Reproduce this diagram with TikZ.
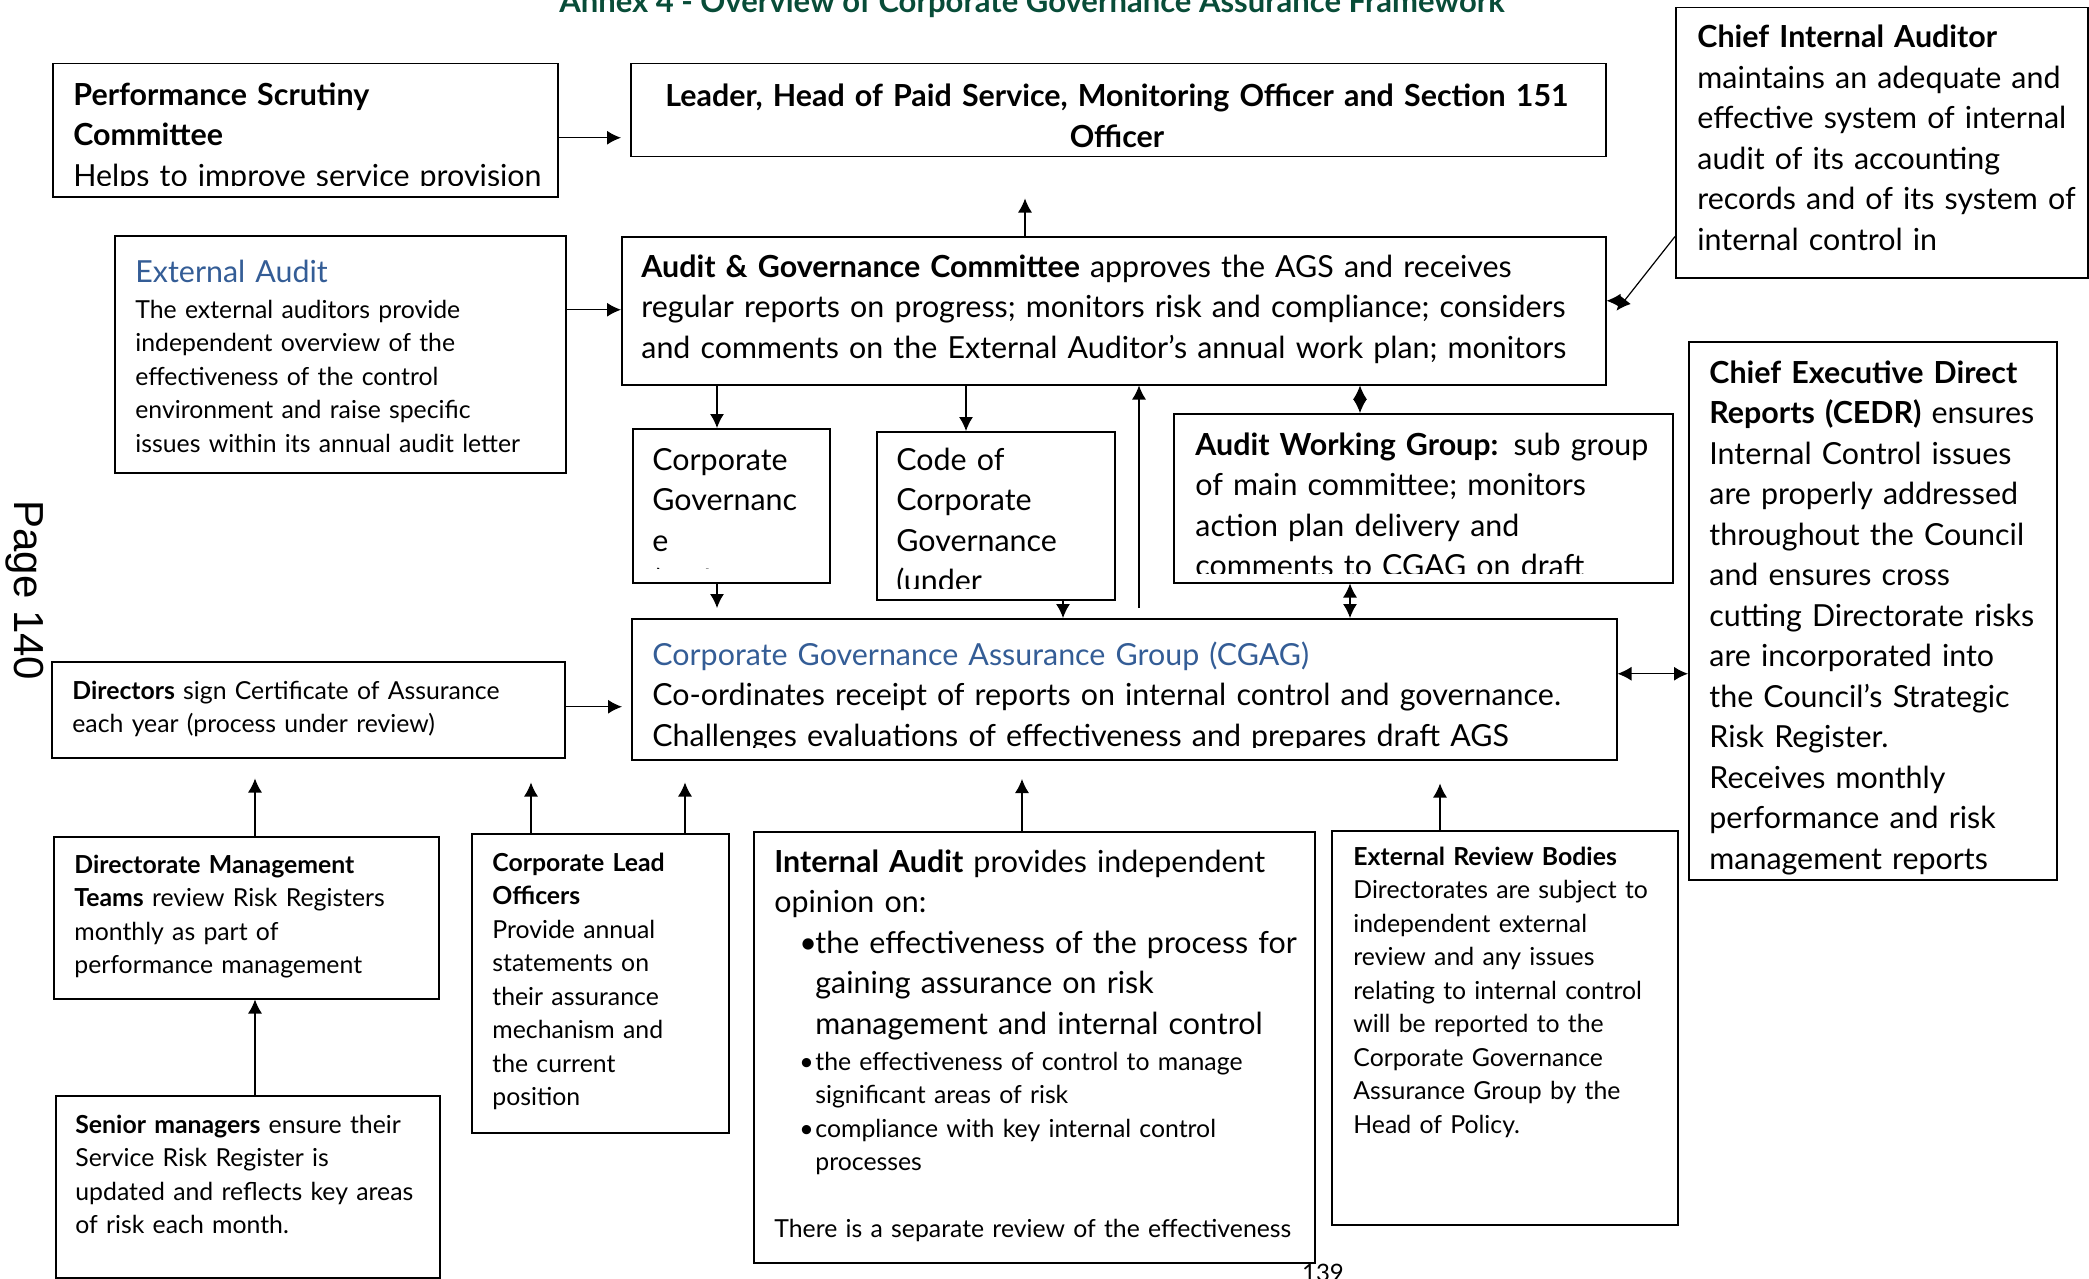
\documentclass[tikz,border=0pt]{standalone}
\usepackage{fontspec}
\setmainfont{Lato}
\newfontfamily\pagefont{Liberation Sans}
\usetikzlibrary{calc}
\usetikzlibrary{positioning}
\usetikzlibrary{arrows.meta}
\definecolor{headblue}{RGB}{52,93,150}
\definecolor{titlegreen}{RGB}{8,76,56}

\begin{document}
\begin{tikzpicture}[x=0.5pt,y=-0.5pt,>={Latex[length=7pt,width=7pt]},
    box/.style={draw,line width=0.75pt,inner sep=0pt,anchor=north west},
    big/.style={anchor=base west,inner sep=0pt,text width=560pt,align=left,font=\fontsize{15.2}{20.25}\selectfont},
    small/.style={anchor=base west,inner sep=0pt,text width=320pt,align=left,font=\fontsize{12.4}{16.75}\selectfont},
    link/.style={->,line width=0.6pt}]
      \useasboundingbox (0,0) rectangle (2089,1279);
      \node[anchor=base,inner sep=0pt,font=\fontsize{15.5}{18}\selectfont\bfseries,text=titlegreen] (title) at (1032,13) {Annex 4 - Overview of Corporate Governance Assurance Framework};
      \node[anchor=base west,rotate=-90,inner sep=0pt,font=\pagefont\fontsize{21}{24}\selectfont] (page) at (14,500) {Page 140};

      \node[box,minimum width=252.5pt,minimum height=66.5pt] (psc) at (52,63) {};
      \node[box,minimum width=487.5pt,minimum height=46.5pt] (leader) at (630,63) {};
      \node[box,minimum width=206pt,minimum height=135pt] (cia) at (1675,7) {};
      \node[box,minimum width=225.5pt,minimum height=118.5pt] (ea) at (114,235) {};
      \node[box,minimum width=492pt,minimum height=74pt] (agc) at (621,236) {};
      \node[box,minimum width=98.5pt,minimum height=77pt] (cg) at (632,428) {};
      \node[box,minimum width=119pt,minimum height=84pt] (code) at (876,431) {};
      \node[box,minimum width=249.5pt,minimum height=84.5pt] (awg) at (1173,413) {};
      \node[box,minimum width=492.5pt,minimum height=70.5pt] (cgag) at (631,618) {};
      \node[box,minimum width=184pt,minimum height=269pt] (cedr) at (1688,341) {};
      \node[box,minimum width=256.5pt,minimum height=48pt] (dir) at (51,661) {};
      \node[box,minimum width=192.5pt,minimum height=81pt] (dmt) at (53,836) {};
      \node[box,minimum width=192pt,minimum height=91pt] (sen) at (55,1095) {};
      \node[box,minimum width=128.5pt,minimum height=149.5pt] (clo) at (471,833) {};
      \node[box,minimum width=280.5pt,minimum height=215.5pt] (ia) at (753,831) {};
      \node[box,minimum width=173pt,minimum height=197pt] (erb) at (1331,830) {};

      \begin{scope}
        \clip (52,63) rectangle (557,186);
        \node[big] (psctext) at (73,105) {\textbf{Performance Scrutiny}\\\textbf{Committee}\\Helps to improve service provision};
      \end{scope}
      \node[big,anchor=base,align=center,text width=480pt] (leadertext) at (1117,107) {\textbf{Leader, Head of Paid Service, Monitoring Officer and Section 151}\\\textbf{Officer}};
      \node[big] (ciatext) at (1697,48) {\textbf{Chief Internal Auditor}\\maintains an adequate and\\effective system of internal\\audit of its accounting\\records and of its system of\\internal control in};
      \node[big,text=headblue] (eahead) at (135,282) {External Audit};
      \node[small] (eatext) at (135,318) {The external auditors provide\\independent overview of the\\effectiveness of the control\\environment and raise specific\\issues within its annual audit letter};
      \node[big] (agctext) at (641,277) {\textbf{Audit \& Governance Committee} approves the AGS and receives\\regular reports on progress; monitors risk and compliance; considers\\and comments on the External Auditor’s annual work plan; monitors};
      \begin{scope}
        \clip (632,428) rectangle (829,568);
        \node[big] (cgtext) at (652,470) {Corporate\\Governanc\\e\\(under};
      \end{scope}
      \begin{scope}
        \clip (876,431) rectangle (1114,588);
        \node[big] (codetext) at (896,470) {Code of\\Corporate\\Governance\\(under};
      \end{scope}
      \begin{scope}
        \clip (1173,413) rectangle (1672,573);
        \node[big] (awgtext) at (1195,455) {\textbf{Audit Working Group:} sub group\\of main committee; monitors\\action plan delivery and\\comments to CGAG on draft};
      \end{scope}
      \begin{scope}
        \clip (631,618) rectangle (1616,747);
        \node[big] (cgagtext) at (652,665) {\textcolor{headblue}{Corporate Governance Assurance Group (CGAG)}\\Co-ordinates receipt of reports on internal control and governance.\\Challenges evaluations of effectiveness and prepares draft AGS};
      \end{scope}
      \node[big] (cedrtext) at (1709,383) {\textbf{Chief Executive Direct}\\\textbf{Reports (CEDR)} ensures\\Internal Control issues\\are properly addressed\\throughout the Council\\and ensures cross\\cutting Directorate risks\\are incorporated into\\the Council’s Strategic\\Risk Register.\\Receives monthly\\performance and risk\\management reports};
      \node[small] (dirtext) at (72,699) {\textbf{Directors} sign Certificate of Assurance\\each year (process under review)};
      \node[small] (dmttext) at (74,873) {\textbf{Directorate Management}\\\textbf{Teams} review Risk Registers\\monthly as part of\\performance management};
      \node[small] (sentext) at (75,1133) {\textbf{Senior managers} ensure their\\Service Risk Register is\\updated and reflects key areas\\of risk each month.};
      \node[small] (clotext) at (492,871) {\textbf{Corporate Lead}\\\textbf{Officers}\\Provide annual\\statements on\\their assurance\\mechanism and\\the current\\position};
      \node[big] (iatext) at (774,872) {\textbf{Internal Audit} provides independent\\opinion on:};
      \node[big] (iabullet1) at (799,953) {\makebox[8pt][l]{•}the effectiveness of the process for\\\hspace*{8pt}gaining assurance on risk\\\hspace*{8pt}management and internal control};
      \node[small] (iabullet2) at (799,1070) {\makebox[8pt][l]{•}the effectiveness of control to manage\\\hspace*{8pt}significant areas of risk};
      \node[small] (iabullet3) at (799,1137) {\makebox[8pt][l]{•}compliance with key internal control\\\hspace*{8pt}processes};
      \node[small] (ianote) at (774,1237) {There is a separate review of the effectiveness};
      \node[small] (erbtext) at (1353,865) {\textbf{External Review Bodies}\\Directorates are subject to\\independent external\\review and any issues\\relating to internal control\\will be reported to the\\Corporate Governance\\Assurance Group by the\\Head of Policy.};
      \node[anchor=base,inner sep=0pt,font=\fontsize{12}{14}\selectfont] (pagenum) at (1323,1281) {139};

      \coordinate (xlead) at (1025,0);
      \coordinate (xcg) at (717,0);
      \coordinate (xcode) at (966,0);
      \coordinate (xcodedown) at (1063,0);
      \coordinate (xback) at (1139,0);
      \coordinate (xawgup) at (1360,0);
      \coordinate (xawgdown) at (1350,0);
      \coordinate (xdmt) at (255,0);
      \coordinate (xclo1) at (531,0);
      \coordinate (xclo2) at (685,0);
      \coordinate (xia) at (1022,0);
      \coordinate (xerb) at (1440,0);

      \draw[link,shorten >=4.5pt] ([yshift=-3.75pt]psc.east) -- ([yshift=-3.75pt]psc.east -| leader.west);
      \draw[link,shorten >=20.5pt] (xlead |- agc.north) -- (xlead |- leader.south);
      \draw[link] ([yshift=21pt]cia.south west) -- ([xshift=5pt]agc.east);
      \draw[link] ([xshift=5pt,yshift=5pt]agc.east) -- ([yshift=5pt]agc.east);
      \draw[link] ([yshift=22.25pt]ea.east) -- ([yshift=22.25pt]ea.east -| agc.west);
      \draw[link] (xcg |- agc.south) -- (xcg |- cg.north);
      \draw[link] (xcode |- agc.south) -- (xcode |- code.north);
      \draw[link,shorten >=5pt] (xcg |- cg.south) -- (xcg |- cgag.north);
      \draw[link] (xcodedown |- code.south) -- (xcodedown |- cgag.north);
      \draw[link,shorten <=5pt] (xback |- cgag.north) -- (xback |- agc.south);
      \draw[link,<->] (xawgup |- agc.south) -- (xawgup |- awg.north);
      \draw[link,<->] (xawgdown |- awg.south) -- (xawgdown |- cgag.north);
      \draw[link,<->] ([yshift=7.75pt]cgag.east) -- ([yshift=7.75pt]cgag.east -| cedr.west);
      \draw[link,shorten >=4.5pt] ([yshift=1.5pt]dir.east) -- ([yshift=1.5pt]dir.east -| cgag.west);
      \draw[link,shorten >=10pt] (xdmt |- dmt.north) -- (xdmt |- dir.south);
      \draw[link] (xdmt |- sen.north) -- (xdmt |- dmt.south);
      \draw[link,shorten >=12pt] (xclo1 |- clo.north) -- (xclo1 |- dir.south);
      \draw[link,shorten >=11pt] (xclo2 |- clo.north) -- (xclo2 |- cgag.south);
      \draw[link,shorten >=9.25pt] (xia |- ia.north) -- (xia |- cgag.south);
      \draw[link,shorten >=11.5pt] (xerb |- erb.north) -- (xerb |- cgag.south);
    \end{tikzpicture}
\end{document}
